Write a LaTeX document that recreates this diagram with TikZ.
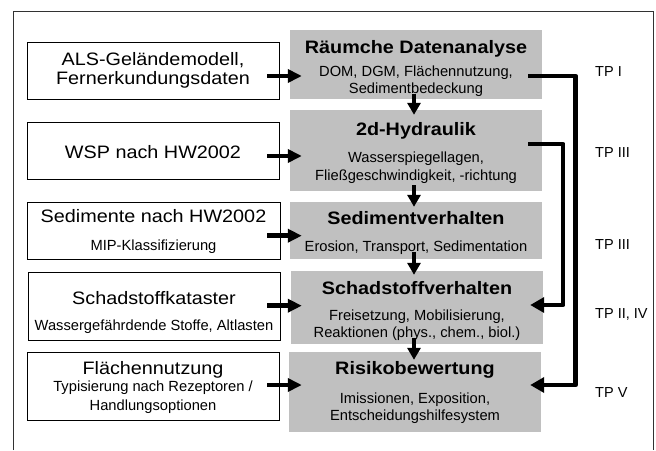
\documentclass[tikz,border=0pt]{standalone}
\usepackage{fontspec}
\setmainfont{Liberation Sans}
\newcommand\widetxt[1]{\scalebox{1.1}[1]{#1}}
\usetikzlibrary{arrows.meta,calc}
\definecolor{boxgray}{RGB}{192,192,192}
\definecolor{framegray}{RGB}{50,50,50}
\tikzset{
 inbox/.style={draw=black, line width=1pt, inner sep=0pt},
 procbox/.style={fill=boxgray, draw=none, inner sep=0pt},
 bigtxt/.style={font=\fontsize{18}{19}\selectfont, anchor=base, inner sep=0pt},
 bigbold/.style={font=\bfseries\fontsize{18}{19}\selectfont, anchor=base, inner sep=0pt},
 smalltxt/.style={font=\fontsize{14.7}{17}\selectfont, anchor=base, inner sep=0pt},
 tplabel/.style={font=\fontsize{14.5}{17}\selectfont, anchor=base west, inner sep=0pt},
 harrow/.style={line width=4.5pt, -{Triangle[length=14pt,width=13pt]}},
 varrow/.style={line width=4pt, -{Triangle[length=12pt,width=13pt]}},
 feedback/.style={line width=4.5pt, line join=round, -{Triangle[length=14pt,width=15pt]}},
}
\begin{document}
\begin{tikzpicture}[x=1pt,y=-1pt]
\useasboundingbox (0,0) rectangle (656,450);
\draw[framegray, line width=1pt] (13,450) -- (13,11) -- (653.5,11) -- (653.5,450);

% input boxes
\node[inbox, minimum width=252pt, minimum height=57pt] (b1) at (153,70.5) {};
\node[inbox, minimum width=252pt, minimum height=57pt] (b2) at (153,150.5) {};
\node[inbox, minimum width=253pt, minimum height=57pt] (b3) at (153.5,230.5) {};
\node[inbox, minimum width=252pt, minimum height=68pt] (b4) at (154,306) {};
\node[inbox, minimum width=252pt, minimum height=68pt] (b5) at (153,386) {};

% process boxes
\node[procbox, minimum width=252pt, minimum height=69pt] (g1) at (416,64.5) {};
\node[procbox, minimum width=252pt, minimum height=81pt] (g2) at (416,150.5) {};
\node[procbox, minimum width=252pt, minimum height=57pt] (g3) at (416,230.5) {};
\node[procbox, minimum width=252pt, minimum height=73pt] (g4) at (417,307.5) {};
\node[procbox, minimum width=252pt, minimum height=80pt] (g5) at (415,392) {};

% input texts
\node[bigtxt] (t1a) at (153,65.5) {\widetxt{ALS-Geländemodell,}};
\node[bigtxt] (t1b) at (153,84) {\widetxt{Fernerkundungsdaten}};
\node[bigtxt] (t2a) at (153,158) {\widetxt{WSP nach HW2002}};
\node[bigtxt] (t3a) at (153.5,222.5) {\widetxt{Sedimente nach HW2002}};
\node[smalltxt] (t3b) at (153.5,250) {MIP-Klassifizierung};
\node[bigtxt] (t4a) at (154,304.5) {\widetxt{Schadstoffkataster}};
\node[smalltxt] (t4b) at (154,330) {Wassergefährdende Stoffe, Altlasten};
\node[bigtxt] (t5a) at (153,374.5) {\widetxt{Flächennutzung}};
\node[smalltxt] (t5b) at (153,391.5) {Typisierung nach Rezeptoren /};
\node[smalltxt] (t5c) at (153,410) {Handlungsoptionen};

% process texts
\node[bigbold] (u1a) at (416,53.3) {\widetxt{Räumche Datenanalyse}};
\node[smalltxt] (u1b) at (416,76.5) {DOM, DGM, Flächennutzung,};
\node[smalltxt] (u1c) at (416,93) {Sedimentbedeckung};
\node[bigbold] (u2a) at (416,135) {\widetxt{2d-Hydraulik}};
\node[smalltxt] (u2b) at (416,162.5) {Wasserspiegellagen,};
\node[smalltxt] (u2c) at (416,180) {Fließgeschwindigkeit, -richtung};
\node[bigbold] (u3a) at (416,224) {\widetxt{Sedimentverhalten}};
\node[smalltxt] (u3b) at (416,251.5) {Erosion, Transport, Sedimentation};
\node[bigbold] (u4a) at (417,294) {\widetxt{Schadstoffverhalten}};
\node[smalltxt] (u4b) at (417,320) {Freisetzung, Mobilisierung,};
\node[smalltxt] (u4c) at (417,337) {Reaktionen (phys., chem., biol.)};
\node[bigbold] (u5a) at (415,374) {\widetxt{Risikobewertung}};
\node[smalltxt] (u5b) at (415,403) {Imissionen, Exposition,};
\node[smalltxt] (u5c) at (415,420) {Entscheidungshilfesystem};

% TP labels
\node[tplabel] (p1) at (595,76) {TP I};
\node[tplabel] (p2) at (595,157) {TP III};
\node[tplabel] (p3) at (595,249) {TP III};
\node[tplabel] (p4) at (595,318) {TP II, IV};
\node[tplabel] (p5) at (595,397) {TP V};

% horizontal arrows
\draw[harrow] ($(b1.east)+(-12.5,5.5)$) -- ($(g1.west)+(12,11.5)$);
\draw[harrow] ($(b2.east)+(-12.5,5.5)$) -- ($(g2.west)+(12,5.5)$);
\draw[harrow] ($(b3.east)+(-13.5,5.2)$) -- ($(g3.west)+(12,5.2)$);
\draw[harrow] ($(b4.east)+(-13.5,-0.3)$) -- ($(g4.west)+(11,-1.8)$);
\draw[harrow] ($(b5.east)+(-12.5,-1)$) -- ($(g5.west)+(13,-7)$);

% vertical arrows
\draw[varrow] ($(g1.south)+(-2,-5)$) -- ($(g2.north)+(-2,5)$);
\draw[varrow] ($(g2.south)+(-2,-6)$) -- ($(g3.north)+(-2,5)$);
\draw[varrow] ($(g3.south)+(-2,-7.3)$) -- ($(g4.north)+(-3,4)$);
\draw[varrow] ($(g4.south)+(-3,-6)$) -- ($(g5.north)+(-1,8)$);

% feedback connectors
\draw[feedback] ($(g1.east)+(-14,11.5)$) -- ++(47.5,0) |- ($(g5.east)+(-11,-7)$);
\draw[feedback] ($(g2.east)+(-14,-6.5)$) -- ++(35,0) |- ($(g4.east)+(-13,-2.5)$);
\end{tikzpicture}
\end{document}
